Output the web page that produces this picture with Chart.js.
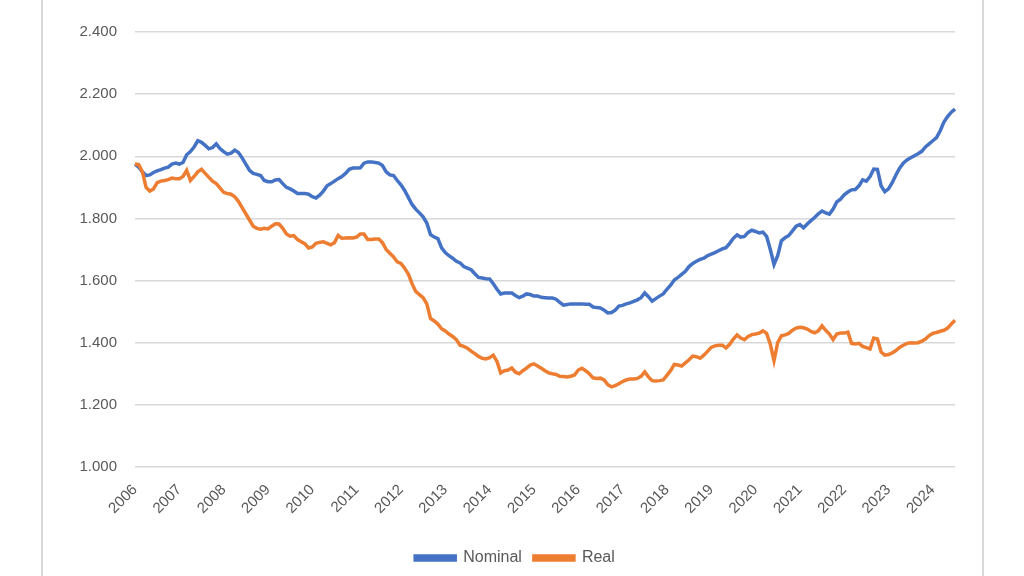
<!DOCTYPE html>
<html>
<head>
<meta charset="utf-8">
<script src="https://cdn.jsdelivr.net/npm/chart.js@4"></script>
<style>
  html, body { margin: 0; padding: 0; background: #fff; }
  #wrap { position: relative; width: 1024px; height: 576px; }
  #frame { position: absolute; left: 41px; top: 0; width: 943px; height: 576px;
           border-left: 2px solid #d9d9d9; border-right: 2px solid #d9d9d9; box-sizing: border-box; }
  canvas { position: absolute; left: 0; top: 0; }
</style>
</head>
<body>
<div id="wrap">
  <div id="frame"></div>
  <canvas id="c" width="1024" height="576"></canvas>
</div>
<script>
// Years covered (monthly data, Jan 2006 - Jul 2024)
const years = [2006,2007,2008,2009,2010,2011,2012,2013,2014,2015,2016,2017,2018,2019,2020,2021,2022,2023,2024];
const monthsInLastYear = 7;

// Y tick values
const yTicks = [1000, 1200, 1400, 1600, 1800, 2000, 2200, 2400];

// Series: Nominal (monthly)
const nominal = [
  1975,1965,1950,1938,1940,1948,1953,1957,1962,1965,1975,1978,
  1975,1980,2005,2015,2030,2050,2045,2035,2024,2028,2040,2025,
  2015,2007,2010,2020,2012,1995,1975,1955,1945,1942,1938,1922,
  1918,1918,1924,1925,1912,1900,1895,1888,1880,1880,1880,1878,
  1870,1866,1875,1888,1905,1912,1920,1928,1935,1945,1958,1962,
  1962,1963,1978,1982,1982,1980,1978,1970,1950,1940,1938,1922,
  1908,1890,1868,1845,1830,1818,1805,1785,1748,1740,1735,1705,
  1690,1680,1672,1662,1657,1645,1640,1635,1622,1610,1608,1606,
  1605,1590,1572,1557,1560,1560,1560,1552,1545,1550,1557,1555,
  1550,1550,1546,1545,1544,1544,1540,1530,1521,1523,1525,1525,
  1525,1525,1524,1524,1515,1513,1512,1505,1496,1497,1505,1518,
  1520,1525,1528,1533,1538,1545,1560,1548,1534,1542,1550,1557,
  1572,1585,1602,1610,1620,1630,1645,1655,1662,1668,1672,1680,
  1685,1690,1696,1702,1706,1720,1736,1747,1740,1742,1755,1762,
  1758,1753,1756,1742,1700,1652,1680,1728,1738,1745,1760,1775,
  1780,1770,1782,1793,1803,1815,1824,1818,1814,1830,1853,1862,
  1876,1885,1892,1893,1905,1924,1920,1935,1959,1958,1905,1886,
  1895,1915,1940,1962,1978,1988,1995,2002,2008,2016,2030,2040,
  2050,2060,2082,2110,2128,2142,2152
];

// Series: Real (monthly)
const real = [
  1975,1973,1950,1900,1888,1895,1915,1920,1922,1925,1930,1928,
  1928,1935,1955,1922,1935,1950,1958,1945,1932,1920,1912,1898,
  1884,1880,1878,1870,1855,1835,1815,1795,1775,1768,1765,1768,
  1766,1775,1783,1782,1768,1750,1743,1745,1732,1725,1718,1705,
  1708,1720,1723,1725,1720,1715,1722,1745,1736,1737,1738,1737,
  1740,1750,1750,1732,1732,1734,1734,1722,1700,1688,1676,1660,
  1655,1640,1621,1590,1565,1555,1545,1525,1478,1470,1460,1445,
  1438,1428,1420,1410,1392,1388,1382,1373,1365,1356,1350,1348,
  1352,1360,1340,1303,1310,1312,1319,1305,1300,1310,1318,1328,
  1332,1325,1318,1310,1303,1300,1298,1292,1291,1290,1292,1296,
  1312,1318,1310,1300,1287,1285,1286,1280,1265,1258,1262,1268,
  1275,1280,1283,1283,1285,1292,1306,1290,1278,1277,1278,1280,
  1295,1310,1330,1328,1325,1335,1345,1357,1355,1350,1360,1372,
  1385,1390,1392,1392,1383,1395,1412,1425,1415,1410,1420,1426,
  1428,1431,1438,1430,1395,1342,1400,1422,1425,1430,1440,1447,
  1450,1448,1444,1436,1432,1438,1454,1440,1428,1410,1428,1431,
  1431,1434,1398,1396,1398,1388,1384,1380,1415,1412,1370,1360,
  1362,1367,1375,1385,1392,1398,1400,1399,1400,1405,1412,1423,
  1430,1433,1437,1440,1447,1460,1472
];

// Category labels (one per month)
const labels = [];
years.forEach((y, yi) => {
  const n = (yi === years.length - 1) ? monthsInLastYear : 12;
  for (let m = 1; m <= n; m++) labels.push(y + '-' + String(m).padStart(2, '0'));
});

function fmtThousands(v) {
  const t = Math.floor(v / 1000);
  const r = Math.round(v % 1000);
  return t + '.' + String(r).padStart(3, '0');
}

const FONT = 'Liberation Sans, Arial, sans-serif';
const TXT = '#595959';

new Chart(document.getElementById('c'), {
  type: 'line',
  data: {
    labels: labels,
    datasets: [
      { label: 'Nominal', data: nominal, borderColor: '#4472C4', backgroundColor: '#4472C4',
        borderWidth: 3.5, pointRadius: 0, tension: 0, order: 2 },
      { label: 'Real', data: real, borderColor: '#ED7D31', backgroundColor: '#ED7D31',
        borderWidth: 3.5, pointRadius: 0, tension: 0, order: 1 }
    ]
  },
  options: {
    responsive: false,
    animation: false,
    layout: { padding: { left: 75, right: 69, top: 32, bottom: 0 } },
    plugins: {
      tooltip: { enabled: false },
      legend: {
        position: 'bottom',
        labels: {
          boxWidth: 40, boxHeight: 4, padding: 12, color: TXT,
          font: { family: FONT, size: 16 },
          sort: (a, b) => a.datasetIndex - b.datasetIndex
        }
      }
    },
    scales: {
      x: {
        grid: { display: false },
        border: { display: false },
        afterFit: (s) => { s.height = 71; },
        ticks: {
          autoSkip: false, minRotation: 45, maxRotation: 45, padding: 6,
          color: TXT, font: { family: FONT, size: 15 },
          callback: function (val, idx) {
            const l = labels[idx];
            return l.endsWith('-01') ? l.slice(0, 4) : '';
          }
        }
      },
      y: {
        min: yTicks[0], max: yTicks[yTicks.length - 1],
        afterFit: (s) => { s.width = 60; },
        afterBuildTicks: (s) => { s.ticks = yTicks.map(v => ({ value: v })); },
        border: { display: false },
        grid: { color: '#d9d9d9', lineWidth: 1.5, drawTicks: false },
        ticks: {
          padding: 18, color: TXT, font: { family: FONT, size: 15 },
          callback: (v) => fmtThousands(v)
        }
      }
    }
  }
});
</script>
</body>
</html>
